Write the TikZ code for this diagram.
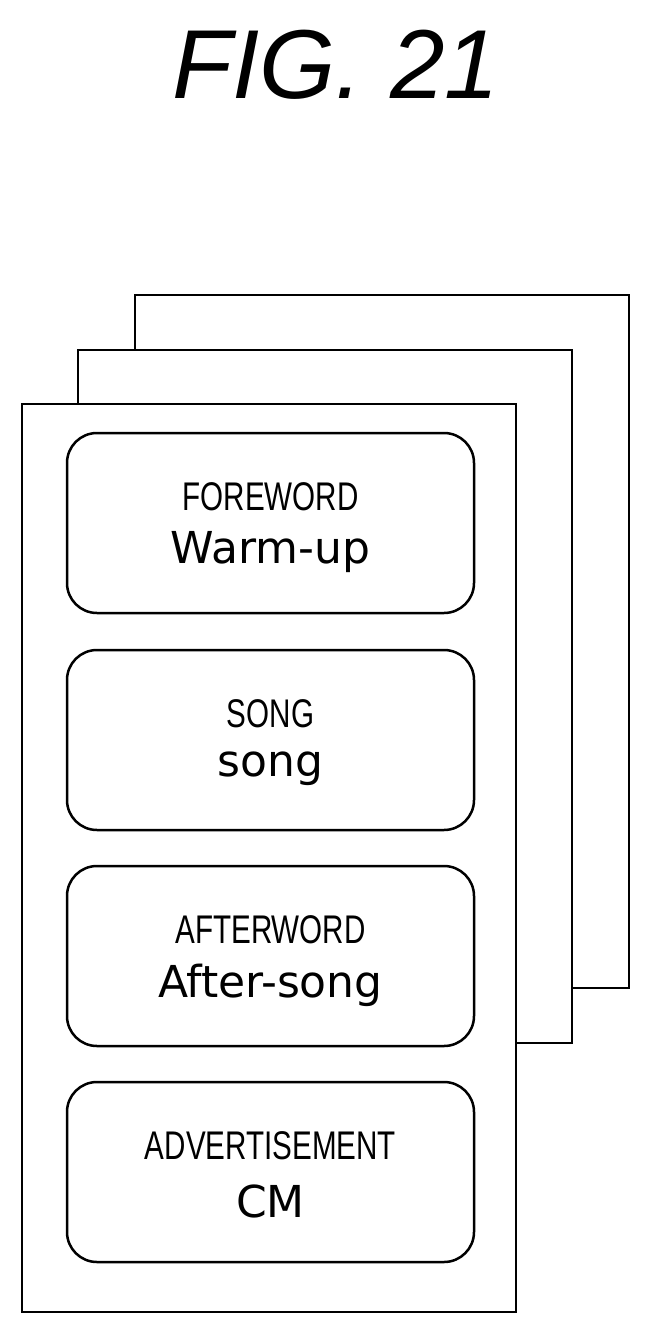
\documentclass[tikz,border=0pt]{standalone}
\usepackage{fontspec}
\setmainfont{Liberation Sans}
\newfontfamily\cond[FakeStretch=0.74]{Liberation Sans}
\newfontfamily\dv{DejaVu Sans}
\begin{document}
\begin{tikzpicture}[x=1pt,y=-1pt,
  sheet/.style={draw,line width=2.5pt,fill=white},
  seg/.style={draw,line width=2.5pt,rounded corners=30pt},
  up/.style={font=\cond\fontsize{40}{44}\selectfont},
  lo/.style={font=\dv\fontsize{44}{48}\selectfont}]
\useasboundingbox (0,0) rectangle (652,1337);
\node (title) at (336,65) {\fontsize{98}{100}\selectfont\itshape FIG. 21};
\path[sheet] (135,295) rectangle (629,988);
\path[sheet] (78,350) rectangle (572,1043);
\path[sheet] (22,404) rectangle (516,1312);
\foreach \n/\t/\a/\b in {b1/433/FOREWORD/Warm-up, b2/650/SONG/song, b3/866/AFTERWORD/After-song, b4/1082/ADVERTISEMENT/CM}{
  \path[seg] (67,\t) rectangle (474,\t+180);
  \node[up] (\n u) at (270.5,\t+64) {\a};
  \node[lo] (\n l) at (270.5,\t+119) {\b};
}
\end{tikzpicture}
\end{document}
